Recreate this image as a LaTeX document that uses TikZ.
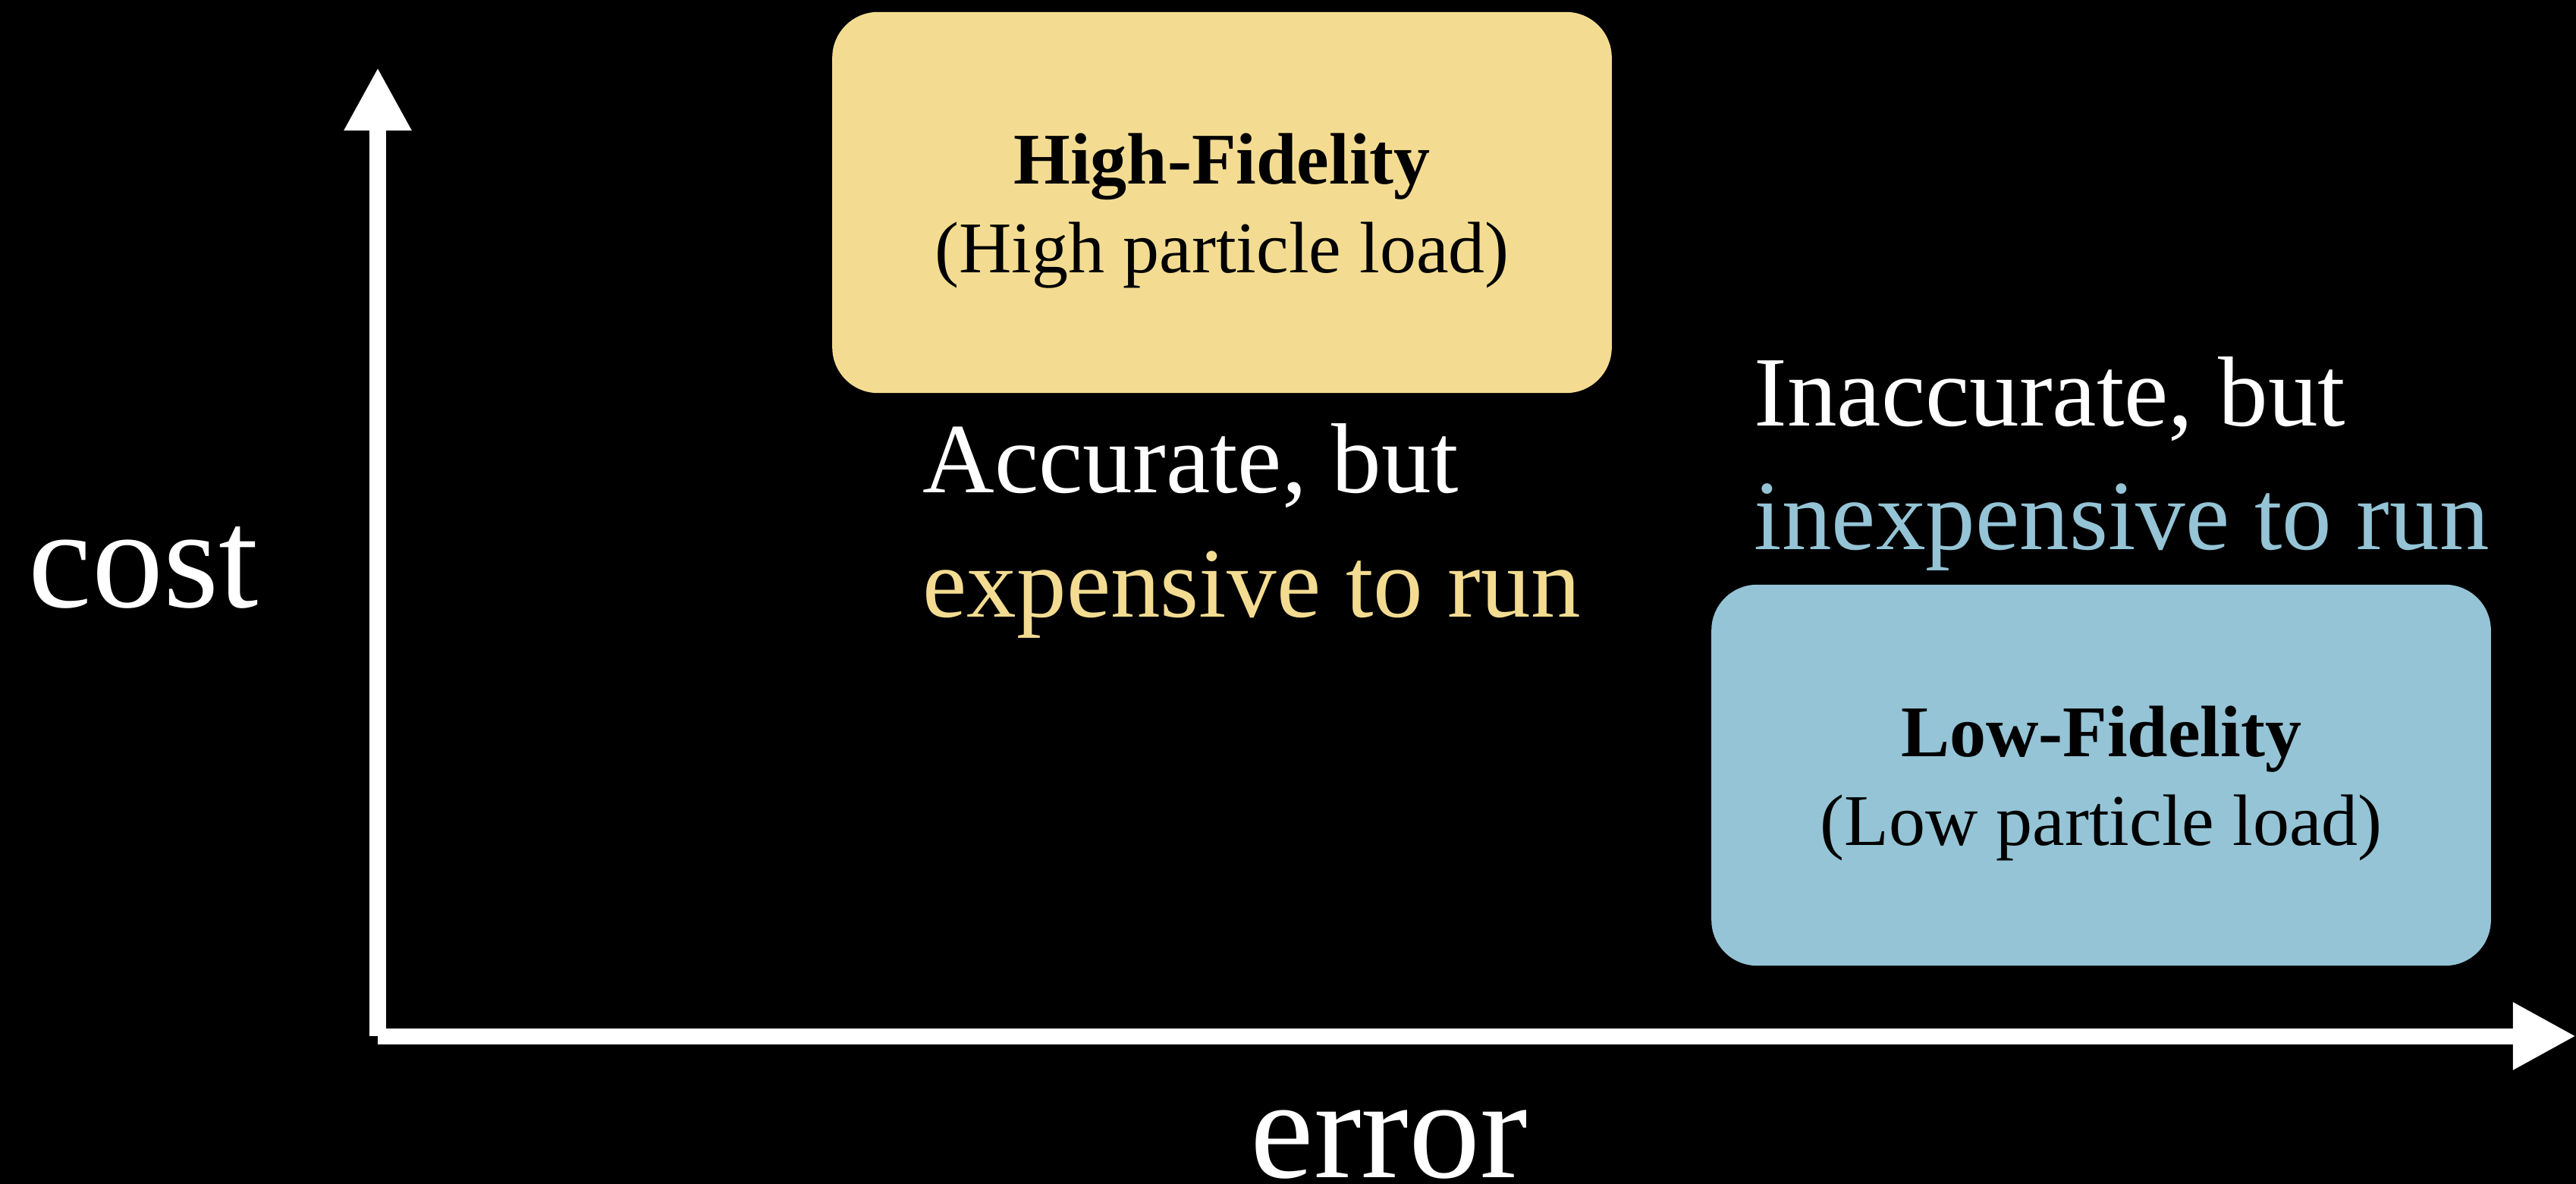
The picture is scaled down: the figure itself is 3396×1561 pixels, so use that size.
\documentclass[tikz,border=0pt]{standalone}
\usepackage{fontspec}
\setmainfont{Liberation Serif}
\usetikzlibrary{arrows.meta}
\definecolor{orhaut}{RGB}{243,220,146}
\definecolor{bleubas}{RGB}{148,196,214}
\begin{document}
\begin{tikzpicture}[line join=miter,>={Triangle[length=.83cm,width=.83cm]},x=.01cm,y=-.01cm,
	axe/.style={->,white,line width=.21cm},
	boite/.style={rounded corners=.6cm,minimum width=10.27cm,minimum height=5.02cm,inner sep=0pt,align=center,font=\fontsize{27.3}{33.3}\selectfont},
	etiq/.style={inner sep=0pt,align=left,font=\fontsize{37.3}{46.4}\selectfont},
	titre/.style={white,inner sep=0pt,font=\fontsize{53.5}{60}\selectfont}]
		% Fond
		\fill[black] (0,0) rectangle (3396,1561);
		\useasboundingbox (0,0) rectangle (3396,1561);
		
		% Axes
		\coordinate (O) at (498,1366);
		\coordinate (ymax) at (498,89);
		\coordinate (xmax) at (3396,1366);
		\draw[axe] (O) -- (ymax);  % Axe des couts
		\draw[axe] (O) -- (xmax);  % Axe des erreurs
		
		% Titres des axes
		\node (cost) [titre,anchor=base west] at (37,800) {cost};
		\node (error) [titre,anchor=base west] at (1648,1552) {error};
		
		% Modeles
		\node (hifi) [boite,fill=orhaut] at (1611,267) {\rule{0pt}{.89cm}\textbf{High-Fidelity}\\(High particle load)};
		\node (lofi) [boite,fill=bleubas] at (2770,1022) {\rule{0pt}{.89cm}\textbf{Low-Fidelity}\\(Low particle load)};
		
		% Commentaires (base = derniere ligne)
		\node (acc) [etiq,anchor=base west] at (1216,813) {\textcolor{white}{Accurate, but}\\\textcolor{orhaut}{expensive to run}};
		\node (inacc) [etiq,anchor=base west] at (2312,725) {\textcolor{white}{Inaccurate, but}\\\textcolor{bleubas}{inexpensive to run}};
	\end{tikzpicture}
\end{document}
